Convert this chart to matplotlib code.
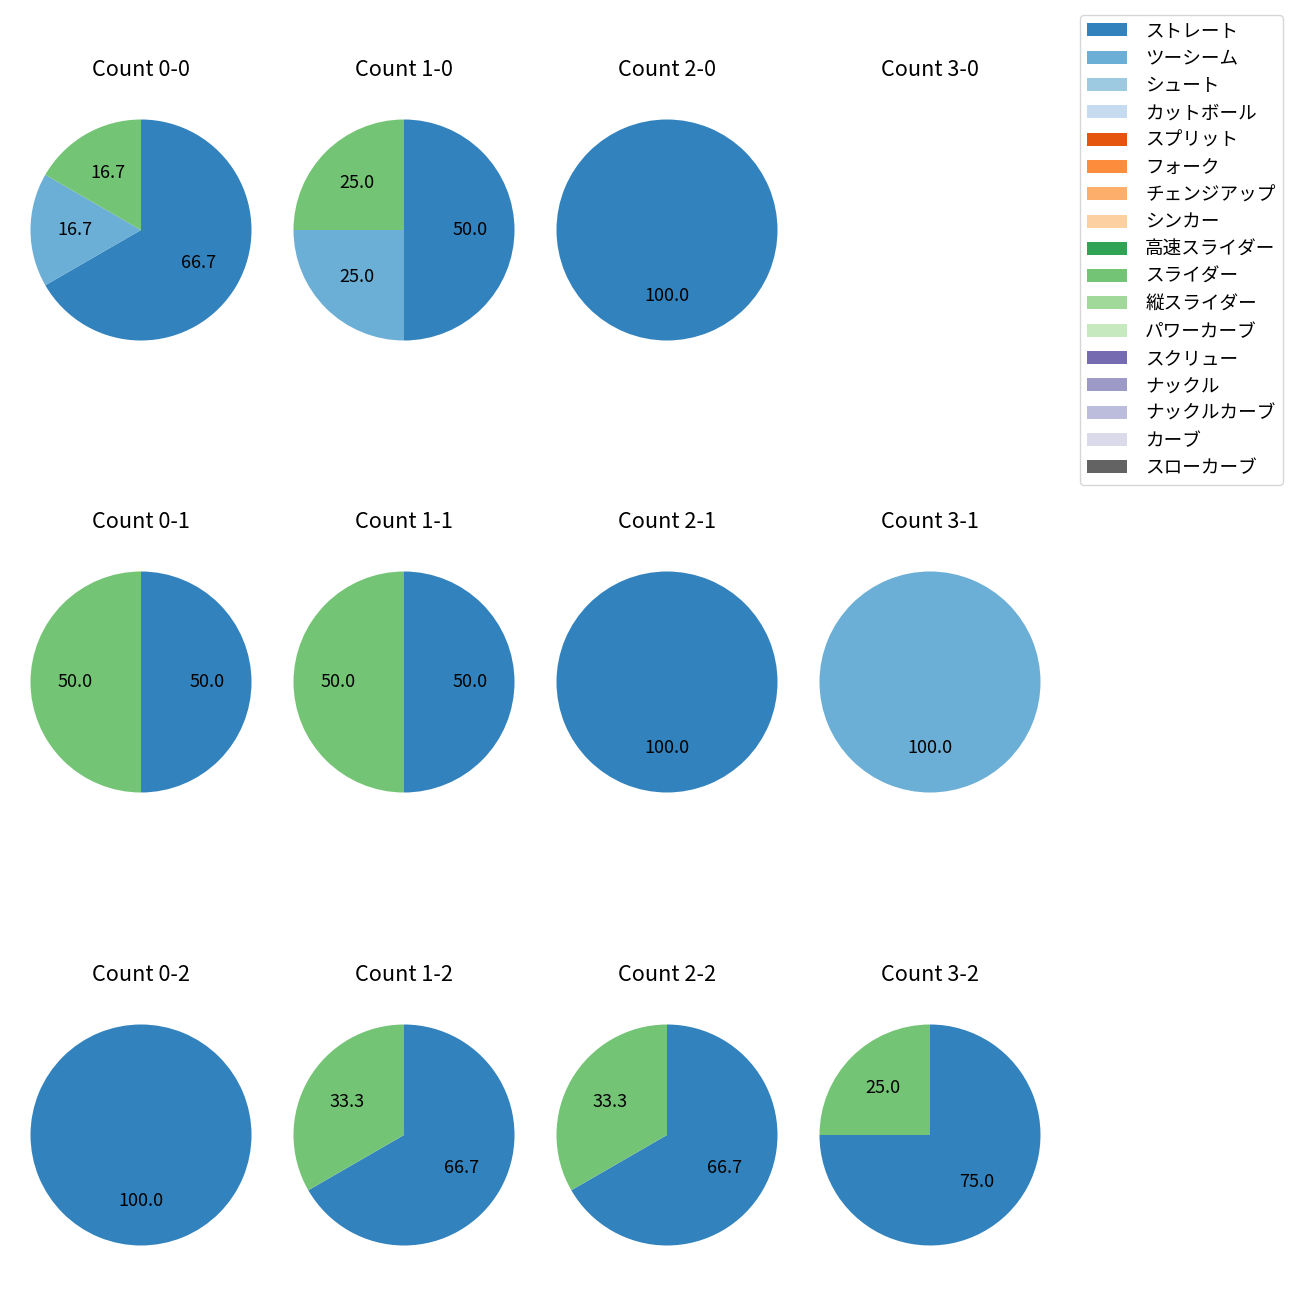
import matplotlib
matplotlib.use("Agg")
import matplotlib.pyplot as plt
from matplotlib.patches import Patch

plt.rcParams['font.family'] = ['Noto Sans CJK JP', 'DejaVu Sans']

pitch_types = ["ストレート", "ツーシーム", "シュート", "カットボール", "スプリット", "フォーク",
               "チェンジアップ", "シンカー", "高速スライダー", "スライダー", "縦スライダー",
               "パワーカーブ", "スクリュー", "ナックル", "ナックルカーブ", "カーブ", "スローカーブ"]
colors = ["#3182bd", "#6baed6", "#9ecae1", "#c6dbef", "#e6550d", "#fd8d3c", "#fdae6b",
          "#fdd0a2", "#31a354", "#74c476", "#a1d99b", "#c7e9c0", "#756bb1", "#9e9ac8",
          "#bcbddc", "#dadaeb", "#636363"]

balls = [0, 1, 2, 3]
strikes = [0, 1, 2]

# counts per pitch type for each count (balls-strikes)
counts = {
    "0-0": {"ストレート": 4, "ツーシーム": 1, "スライダー": 1},
    "1-0": {"ストレート": 2, "ツーシーム": 1, "スライダー": 1},
    "2-0": {"ストレート": 1},
    "3-0": {},
    "0-1": {"ストレート": 1, "スライダー": 1},
    "1-1": {"ストレート": 1, "スライダー": 1},
    "2-1": {"ストレート": 1},
    "3-1": {"ツーシーム": 1},
    "0-2": {"ストレート": 1},
    "1-2": {"ストレート": 2, "スライダー": 1},
    "2-2": {"ストレート": 2, "スライダー": 1},
    "3-2": {"ストレート": 3, "スライダー": 1},
}

W = H = 1300
fig = plt.figure(figsize=(13, 13), dpi=100)

cxs = [141, 404, 667, 930]
cys = [230, 682, 1135]
r_px = 110.5
half_h = 143

for si, s in enumerate(strikes):
    for bi, b in enumerate(balls):
        key = f"{b}-{s}"
        cx, cy = cxs[bi], cys[si]
        left = (cx - r_px) / W
        bottom = 1 - (cy + half_h) / H
        ax = fig.add_axes([left, bottom, 2 * r_px / W, 2 * half_h / H])
        data = counts[key]
        vals = [data[p] for p in pitch_types if p in data]
        cols = [colors[i] for i, p in enumerate(pitch_types) if p in data]
        if vals:
            ax.pie(vals, colors=cols, startangle=90, counterclock=False,
                   autopct='%.1f', textprops={'fontsize': 13})
        ax.set_aspect('auto')
        ax.set_xlim(-1, 1)
        ax.set_ylim(-half_h / r_px, half_h / r_px)
        ax.axis('off')
        ax.set_title(f"Count {key}", fontsize=15.6, pad=7.8)

handles = [Patch(facecolor=c, label=p) for p, c in zip(pitch_types, colors)]
fig.legend(handles=handles, loc='upper right',
           bbox_to_anchor=(1283 / W, 1 - 15 / H), borderaxespad=0, fontsize=13.4,
           handlelength=2.1, handletextpad=1.0)

fig.savefig("out.png", dpi=100)
